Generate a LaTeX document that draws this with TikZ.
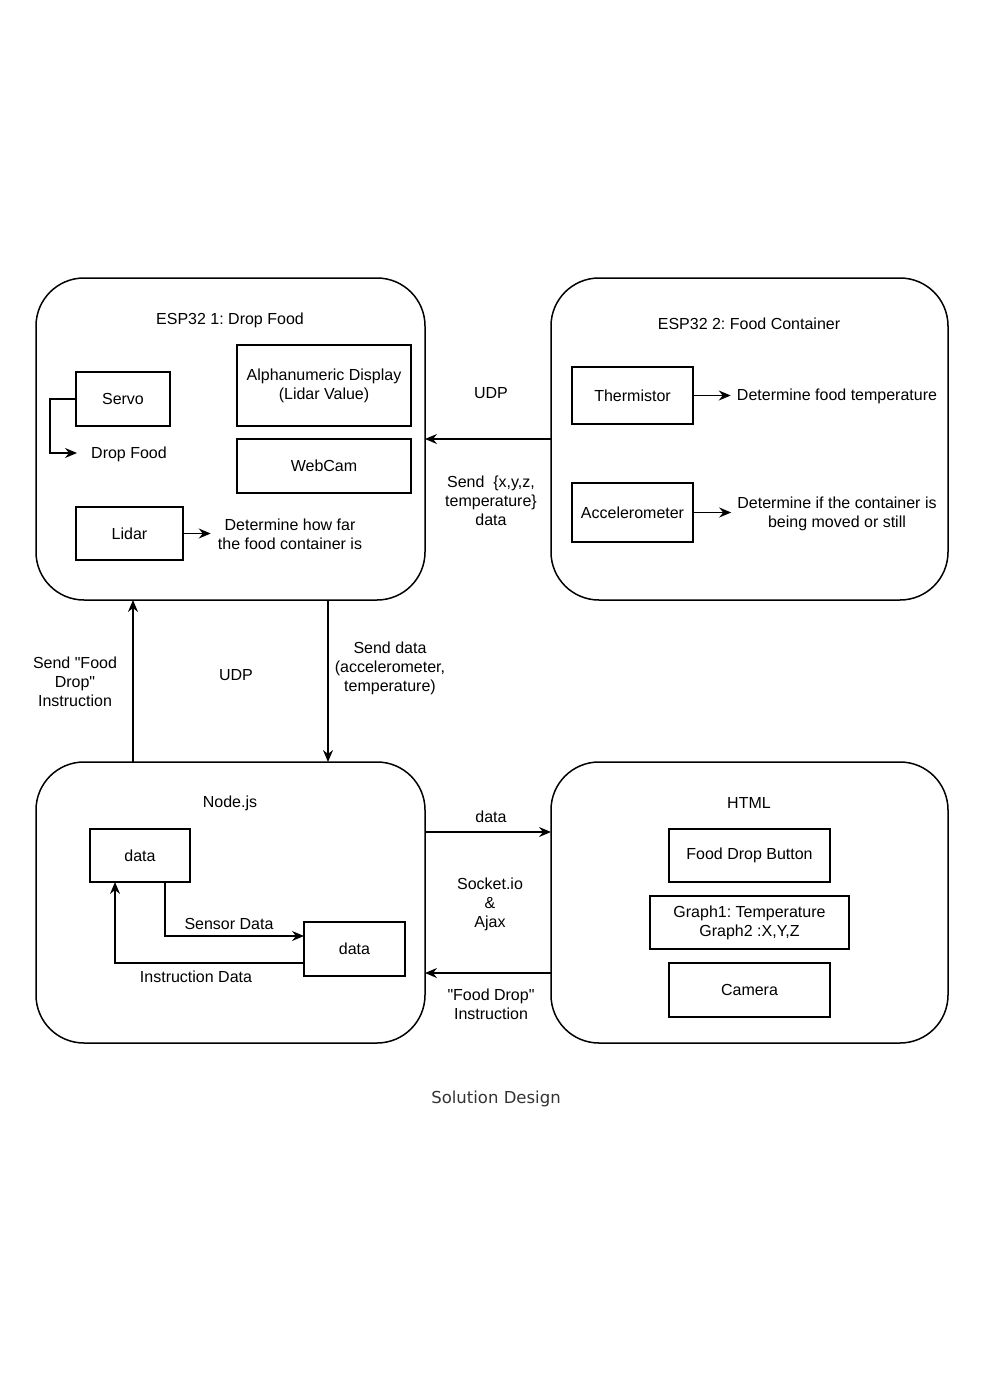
\documentclass[tikz,border=0pt]{standalone}
\usepackage{fontspec}
\setmainfont{Liberation Sans}[Ligatures=TeXOff]
\newfontfamily\captionfont{DejaVu Sans}
\usetikzlibrary{positioning}
\usetikzlibrary{arrows.meta}
\frenchspacing
\tikzset{%
  container/.style={rectangle, draw, line width=1.5pt, rounded corners=48pt, outer sep=0pt},
  %
  part/.style={rectangle, draw, line width=1.5pt, outer sep=0pt, inner sep=0pt, align=center},% component inside a device
  note/.style={inner sep=0pt, align=center},% free text
  flow/.style={-{Stealth[length=12pt,width=10pt,inset=4pt]}, line width=1.4pt},
}

\begin{document}
\begin{tikzpicture}[x=1pt, y=-1pt, font=\fontsize{16}{19}\selectfont]
    \useasboundingbox[fill=white] (0,0) rectangle (980,1373);

    % ---
    % devices
    % ---
    \node[container, minimum width=389pt, minimum height=322pt] (esp1) at (230.5,439) {};
    \node[container, minimum width=397pt, minimum height=322pt] (esp2) at (749.5,439) {};
    \node[container, minimum width=389pt, minimum height=281pt] (nodejs) at (230.5,902.5) {};
    \node[container, minimum width=397pt, minimum height=281pt] (html) at (749.5,902.5) {};

    \node[note] (t1) at (230,320) {ESP32 1: Drop Food};
    \node[note] (t2) at (749,324) {ESP32 2: Food Container};
    \node[note] (t3) at (230,803) {Node.js};
    \node[note] (t4) at (749,803) {HTML};

    % ESP32 1
    \node[part, minimum width=94pt, minimum height=54pt] (servo) at (123,399) {Servo};
    \node[part, minimum width=174pt, minimum height=81pt] (display) at (324,385.5) {Alphanumeric Display\\(Lidar Value)};
    \node[part, minimum width=174pt, minimum height=54pt] (webcam) at (324,466) {WebCam};
    \node[part, minimum width=107pt, minimum height=53pt] (lidar) at (129.5,533.5) {Lidar};
    \node[note] (dropfood) at (129,454) {Drop Food};
    \node[note] (howfar) at (290,534) {Determine how far\\the food container is};

    \draw[flow] (servo.west) -- ++(-26,0) |- ([xshift=-14pt,yshift=1pt]dropfood.west);
    \draw[flow, shorten >=7pt] (lidar.east) -- (howfar.west |- lidar.east);

    % ESP32 2
    \node[part, minimum width=121pt, minimum height=57pt] (thermistor) at (632.5,395.5) {Thermistor};
    \node[part, minimum width=121pt, minimum height=59pt] (accel) at (632.5,512.5) {Accelerometer};
    \node[note] (foodtemp) at (837,396) {Determine food temperature};
    \node[note] (moved) at (837,514) {Determine if the container is\\being moved or still};

    \draw[flow, shorten >=6pt] (thermistor.east) -- (foodtemp.west |- thermistor.east);
    \draw[flow, shorten >=6pt] (accel.east) -- (accel.east -| moved.west);

    % Node.js
    \node[part, minimum width=100pt, minimum height=53pt] (data1) at (140,855.5) {data};
    \node[part, minimum width=101pt, minimum height=54pt] (data2) at (354.5,949) {data};
    \node[note] (sensor) at (229,924) {Sensor Data};
    \node[note] (instr) at (196,977) {Instruction Data};

    \draw[flow] ([xshift=25pt]data1.south) |- ([yshift=13pt]data2.west);
    \draw[flow] ([yshift=-14pt]data2.west) -| ([xshift=-25pt]data1.south);

    % HTML
    \node[part, minimum width=161pt, minimum height=53pt] (button) at (749.5,855.5) {Food Drop Button};
    \node[part, minimum width=199pt, minimum height=53pt] (graphs) at (749.5,922.5) {Graph1: Temperature\\Graph2 :X,Y,Z};
    \node[part, minimum width=161pt, minimum height=54pt] (camera) at (749.5,990) {Camera};

    % ---
    % links
    % ---
    \draw[flow] (esp2.west) -- (esp1.east);
    \node[note] (udp1) at (491,393) {UDP};
    \node[note] (xyz) at (491,501) {Send \ \{x,y,z,\\temperature\}\\data};

    \draw[flow] ([xshift=-97.5pt]nodejs.north) -- ([xshift=-97.5pt]esp1.south);
    \draw[flow] ([xshift=97.5pt]esp1.south) -- ([xshift=97.5pt]nodejs.north);
    \node[note] (dropinstr) at (75,682) {Send "Food\\Drop"\\Instruction};
    \node[note] (udp2) at (236,675) {UDP};
    \node[note] (senddata) at (390,668) {Send data\\(accelerometer,\\temperature)};

    \draw[flow] ([yshift=70.5pt]nodejs.east) -- ([yshift=70.5pt]html.west);
    \draw[flow] ([yshift=-70.5pt]html.west) -- ([yshift=-70.5pt]nodejs.east);
    \node[note] (dataout) at (491,817) {data};
    \node[note] (socket) at (490,904) {Socket.io\\\&\\Ajax};
    \node[note] (fdinstr) at (491,1004) {"Food Drop"\\Instruction};

    \node[note, text=black!80, font=\captionfont\fontsize{16.5}{19}\selectfont] (caption) at (496,1099) {Solution Design};
  \end{tikzpicture}
\end{document}
